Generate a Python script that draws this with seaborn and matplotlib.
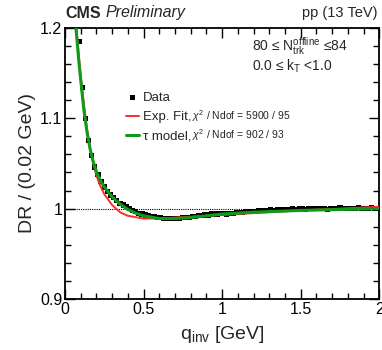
import numpy as np
import pandas as pd
import matplotlib
matplotlib.use("Agg")
import matplotlib.pyplot as plt
import seaborn as sns
from matplotlib.ticker import MultipleLocator

# ---- data ----
q_data = [0.09, 0.11, 0.13, 0.15, 0.17, 0.19, 0.21, 0.23, 0.25, 0.27,
          0.29, 0.31, 0.33, 0.35, 0.37, 0.39, 0.41, 0.43, 0.45, 0.47,
          0.49, 0.51, 0.53, 0.55, 0.57, 0.59, 0.61, 0.63, 0.65, 0.67,
          0.69, 0.71, 0.73, 0.75, 0.77, 0.79, 0.81, 0.83, 0.85, 0.87,
          0.89, 0.91, 0.93, 0.95, 0.97, 0.99, 1.01, 1.03, 1.05, 1.07,
          1.09, 1.11, 1.13, 1.15, 1.17, 1.19, 1.21, 1.23, 1.25, 1.27,
          1.29, 1.31, 1.33, 1.35, 1.37, 1.39, 1.41, 1.43, 1.45, 1.47,
          1.49, 1.51, 1.53, 1.55, 1.57, 1.59, 1.61, 1.63, 1.65, 1.67,
          1.69, 1.71, 1.73, 1.75, 1.77, 1.79, 1.81, 1.83, 1.85, 1.87,
          1.89, 1.91, 1.93, 1.95, 1.97, 1.99]
dr_data = [1.185, 1.134, 1.100, 1.075, 1.059, 1.046, 1.038, 1.030, 1.024, 1.019,
           1.015, 1.012, 1.009, 1.006, 1.004, 1.002, 1.000, 0.998, 0.997, 0.995,
           0.994, 0.993, 0.992, 0.991, 0.991, 0.990, 0.990, 0.989, 0.989, 0.989,
           0.989, 0.989, 0.989, 0.990, 0.990, 0.990, 0.991, 0.991, 0.992, 0.992,
           0.993, 0.993, 0.994, 0.994, 0.994, 0.995, 0.995, 0.994, 0.995, 0.995,
           0.996, 0.996, 0.996, 0.997, 0.997, 0.997, 0.997, 0.998, 0.998, 0.998,
           0.998, 0.999, 0.998, 0.999, 0.999, 0.999, 0.999, 0.999, 1.000, 0.999,
           1.000, 1.000, 0.999, 1.000, 1.000, 1.000, 1.000, 1.000, 1.000, 0.999,
           1.000, 1.000, 1.000, 1.001, 1.000, 1.000, 1.000, 1.000, 1.000, 1.001,
           1.000, 1.000, 1.000, 1.001, 1.000, 1.000]

q_exp = [0.060, 0.070, 0.080, 0.090, 0.100, 0.120, 0.140, 0.160, 0.180, 0.200,
         0.220, 0.250, 0.300, 0.350, 0.400, 0.500, 0.600, 0.800, 1.000, 1.500, 2.000]
dr_exp = [1.235, 1.208, 1.186, 1.166, 1.148, 1.116, 1.089, 1.067, 1.050, 1.037,
          1.027, 1.016, 1.004, 0.996, 0.992, 0.989, 0.989, 0.991, 0.993, 0.998, 1.002]

q_tau = [0.060, 0.070, 0.080, 0.090, 0.100, 0.120, 0.140, 0.160, 0.180, 0.200,
         0.220, 0.250, 0.300, 0.350, 0.400, 0.450, 0.500, 0.600, 0.700, 0.800,
         1.000, 1.200, 1.500, 2.000]
dr_tau = [1.225, 1.200, 1.180, 1.160, 1.143, 1.110, 1.085, 1.066, 1.052, 1.041,
          1.033, 1.024, 1.013, 1.005, 0.999, 0.995, 0.992, 0.989, 0.989, 0.990,
          0.994, 0.996, 0.998, 1.000]

x_ticks = [0, 0.5, 1, 1.5, 2]
x_ticklabels = ["0", "0.5", "1", "1.5", "2"]
y_ticks = [0.9, 1.0, 1.1, 1.2]
y_ticklabels = ["0.9", "1", "1.1", "1.2"]

chi2_labels = ["$\\chi^2$ / Ndof = 5900 / 95", "$\\chi^2$ / Ndof = 902 / 93"]

df_data = pd.DataFrame({"q": q_data, "dr": dr_data})
df_exp = pd.DataFrame({"q": q_exp, "dr": dr_exp})
df_tau = pd.DataFrame({"q": q_tau, "dr": dr_tau})

sns.set_theme(style="ticks")
plt.rcParams["font.family"] = ["Liberation Sans", "DejaVu Sans"]
plt.rcParams["mathtext.fontset"] = "custom"
plt.rcParams["mathtext.rm"] = "Liberation Sans"
plt.rcParams["mathtext.it"] = "Liberation Sans:italic"

fig = plt.figure(figsize=(3.82, 3.50), dpi=100)
ax = fig.add_axes([0.170, 0.146, 0.823, 0.774])

ax.axhline(1.0, color="black", lw=0.8, ls=(0, (1, 1)), zorder=1)

sns.scatterplot(data=df_data, x="q", y="dr", marker="s", s=14, color="black",
                edgecolor="none", ax=ax, zorder=3, label="Data")
sns.lineplot(data=df_exp, x="q", y="dr", color="#ff2a2a", lw=1.4, ax=ax,
             zorder=4, label="Exp. Fit,")
sns.lineplot(data=df_tau, x="q", y="dr", color="#0f9a1a", lw=2.2, ax=ax,
             zorder=5, label="\u03c4 model,")

ax.set_xlim(0, 2)
ax.set_ylim(0.9, 1.2)
ax.set_xticks(x_ticks)
ax.set_xticklabels(x_ticklabels)
ax.set_yticks(y_ticks)
ax.set_yticklabels(y_ticklabels)
ax.xaxis.set_minor_locator(MultipleLocator(0.1))
ax.yaxis.set_minor_locator(MultipleLocator(0.02))
ax.tick_params(which="both", direction="in", top=True, right=True,
               labelsize=11.5, width=1.0, colors="black", pad=2)
ax.tick_params(which="major", length=7)
ax.tick_params(which="minor", length=4)
for sp in ax.spines.values():
    sp.set_linewidth(1.3)
    sp.set_color("black")

ax.set_xlabel("q$_{\\mathregular{inv}}$ [GeV]", fontsize=14, labelpad=5)
ax.set_ylabel("DR / (0.02 GeV)", fontsize=14, labelpad=3)

leg = ax.legend(loc="upper left", bbox_to_anchor=(0.178, 0.785), frameon=False,
                fontsize=9.5, handlelength=1.0, handletextpad=0.25,
                labelspacing=0.55, borderaxespad=0)

# small chi2 annotations placed just after the legend labels
fig.canvas.draw()
renderer = fig.canvas.get_renderer()
inv = fig.transFigure.inverted()
for txt, lab in zip(leg.get_texts()[1:], chi2_labels):
    bb = txt.get_window_extent(renderer)
    x0, y0 = inv.transform((bb.x1 + 1, (bb.y0 + bb.y1) / 2))
    fig.text(x0, y0 + 0.004, lab, fontsize=7.5, va="center", ha="left")

fig.text(65 / 382, 1 - 13 / 350, "CMS", fontsize=11.5, fontweight="bold",
         va="center", ha="left")
fig.text(106 / 382, 1 - 13 / 350, "Preliminary", fontsize=11.5,
         fontstyle="italic", va="center", ha="left")
fig.text(377 / 382, 1 - 13 / 350, "pp (13 TeV)", fontsize=10.5,
         va="center", ha="right")

fig.text(252 / 382, 1 - 46 / 350,
         "80 \u2264 N$_{\\mathregular{trk}}^{\\mathregular{offline}}$ \u226484",
         fontsize=10, va="center", ha="left")
fig.text(252 / 382, 1 - 66 / 350,
         "0.0 \u2264 k$_{\\mathregular{T}}$ <1.0",
         fontsize=10, va="center", ha="left")

fig.savefig("out.png", dpi=100)
